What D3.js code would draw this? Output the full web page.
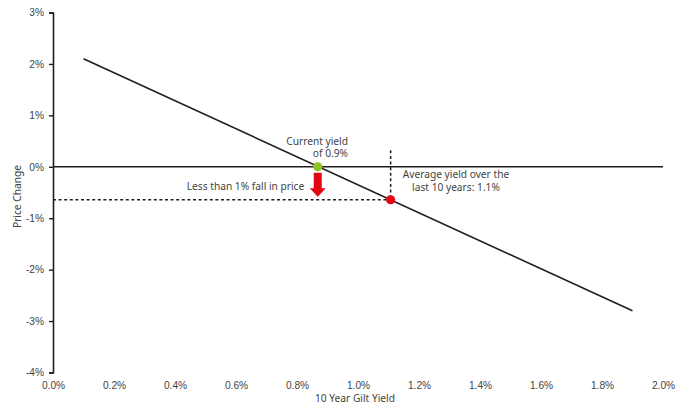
<!DOCTYPE html>
<html>
<head>
<meta charset="utf-8">
<script src="https://cdn.jsdelivr.net/npm/d3@7/dist/d3.min.js"></script>
<style>
  html, body { margin: 0; padding: 0; background: #fff; }
  svg { display: block; font-family: "Noto Sans", "DejaVu Sans", sans-serif; }
  .tick text { fill: #444; font-size: 10.2px; }
</style>
</head>
<body>
<div id="chart"></div>
<script>
// Gilt price sensitivity: price change against 10-year yield
const yieldPoints = [0.1, 1.9];          // 10 Year Gilt Yield (%)
const priceChange = [2.1, -2.8];         // Price change (%)
const currentYield = 0.868;              // current yield (%)
const currentChange = 0;
const averageYield = 1.107;              // 10-year average yield (%)
const averageChange = -0.641;
const xTicks = [0, 0.2, 0.4, 0.6, 0.8, 1.0, 1.2, 1.4, 1.6, 1.8, 2.0];
const yTicks = [3, 2, 1, 0, -1, -2, -3, -4];

const W = 686, H = 405;
const svg = d3.select("#chart").append("svg").attr("width", W).attr("height", H);

const x = d3.scaleLinear().domain([0, 2]).range([53, 663]);
const y = d3.scaleLinear().domain([-4, 3]).range([372.5, 12.5]);

const ink = "#1e1e1e";
const txt = "#444";
const fs = 10.2;

// y axis
const yAxis = d3.axisLeft(y).tickValues(yTicks).tickSize(4).tickPadding(5)
  .tickFormat(d => d + "%");
const gy = svg.append("g").attr("transform", `translate(${x(0)},0)`).call(yAxis);
gy.select(".domain").attr("stroke", ink).attr("stroke-width", 1.6);
gy.selectAll(".tick line").attr("stroke", ink).attr("stroke-width", 1.4);

// x axis labels only
const xAxis = d3.axisBottom(x).tickValues(xTicks).tickSize(0).tickPadding(9)
  .tickFormat(d => d.toFixed(1) + "%");
const gx = svg.append("g").attr("transform", `translate(0,${y(-4)})`).call(xAxis);
gx.select(".domain").remove();

// axis titles
svg.append("text").attr("x", 355).attr("y", 402).attr("text-anchor", "middle")
  .attr("fill", txt).attr("font-size", fs).text("10 Year Gilt Yield");
svg.append("text").attr("transform", `translate(21,${(y(3) + y(-4)) / 2 + 4}) rotate(-90)`)
  .attr("text-anchor", "middle").attr("fill", txt).attr("font-size", fs).text("Price Change");

// zero line
svg.append("line").attr("x1", x(0)).attr("x2", x(2)).attr("y1", y(0)).attr("y2", y(0))
  .attr("stroke", ink).attr("stroke-width", 1.5);

// reference dotted lines to the average yield point
svg.append("line").attr("x1", x(0)).attr("x2", x(averageYield))
  .attr("y1", y(averageChange)).attr("y2", y(averageChange))
  .attr("stroke", ink).attr("stroke-width", 1.5).attr("stroke-dasharray", "3,2.6");
svg.append("line").attr("x1", x(averageYield)).attr("x2", x(averageYield))
  .attr("y1", y(0.32)).attr("y2", y(averageChange))
  .attr("stroke", ink).attr("stroke-width", 1.5).attr("stroke-dasharray", "3,2.6");

// price/yield line
const lineData = yieldPoints.map((v, i) => [v, priceChange[i]]);
svg.append("path").datum(lineData)
  .attr("d", d3.line().x(d => x(d[0])).y(d => y(d[1])))
  .attr("fill", "none").attr("stroke", ink).attr("stroke-width", 1.6);

// down arrow from current yield towards the average-yield level
const ax = x(currentYield);
const aTop = y(currentChange) + 6, aTip = y(averageChange) - 3, aHead = aTip - 8.5;
svg.append("path")
  .attr("d", `M${ax - 4},${aTop} L${ax + 4},${aTop} L${ax + 4},${aHead} L${ax + 8},${aHead}
              L${ax},${aTip} L${ax - 8},${aHead} L${ax - 4},${aHead} Z`)
  .attr("fill", "#e30613");

// points
svg.append("circle").attr("cx", x(currentYield)).attr("cy", y(currentChange)).attr("r", 4.6)
  .attr("fill", "#8dc21f");
svg.append("circle").attr("cx", x(averageYield)).attr("cy", y(averageChange)).attr("r", 4.6)
  .attr("fill", "#e30613");

// annotations
svg.append("text").attr("x", 348).attr("y", 144.5).attr("text-anchor", "end")
  .attr("fill", txt).attr("font-size", fs).text("Current yield");
svg.append("text").attr("x", 348).attr("y", 157).attr("text-anchor", "end")
  .attr("fill", txt).attr("font-size", fs).text("of " + currentYield.toFixed(1) + "%");
svg.append("text").attr("x", 245.5).attr("y", 189.5).attr("text-anchor", "middle")
  .attr("fill", txt).attr("font-size", fs).text("Less than 1% fall in price");
svg.append("text").attr("x", 456).attr("y", 178).attr("text-anchor", "middle")
  .attr("fill", txt).attr("font-size", fs).text("Average yield over the");
svg.append("text").attr("x", 456).attr("y", 190.5).attr("text-anchor", "middle")
  .attr("fill", txt).attr("font-size", fs).text("last 10 years: " + averageYield.toFixed(1) + "%");
</script>
</body>
</html>
